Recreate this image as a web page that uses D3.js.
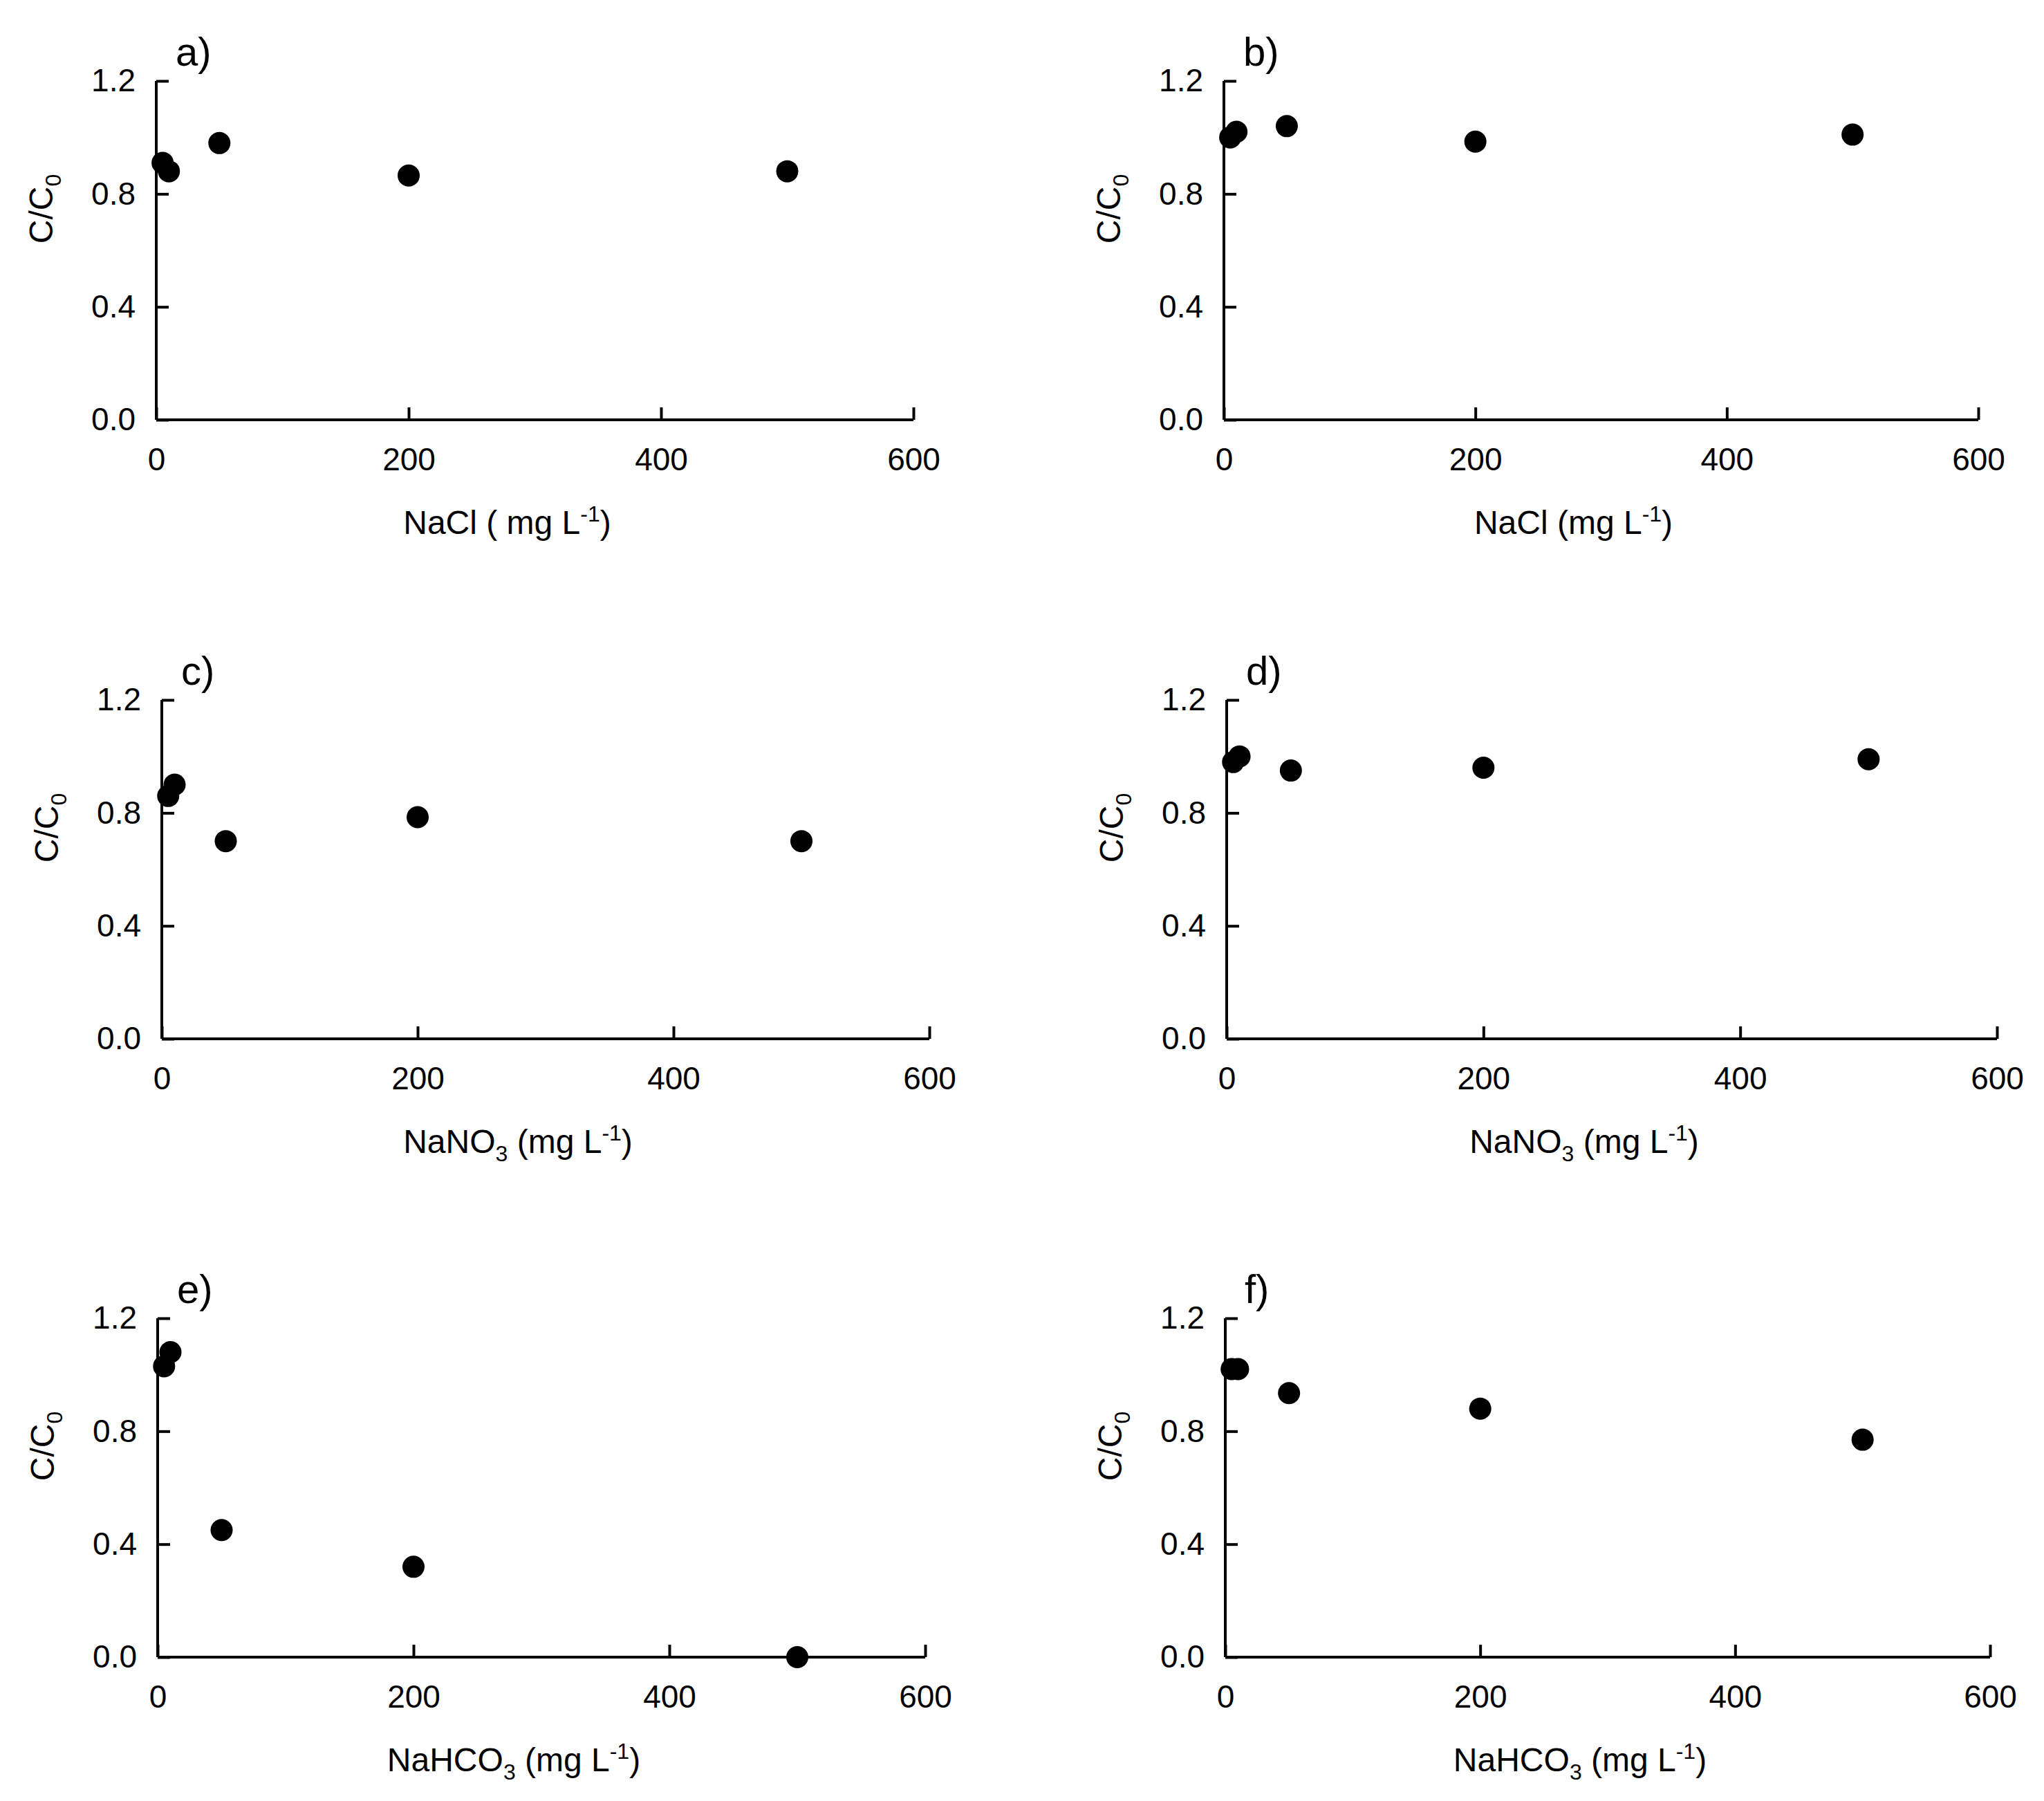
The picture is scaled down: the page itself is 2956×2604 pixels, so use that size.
<!DOCTYPE html>
<html><head><meta charset="utf-8">
<script src="https://cdn.jsdelivr.net/npm/d3@7"></script>
<style>body{margin:0;background:#fff}text{font-family:"Liberation Sans",Arial,sans-serif;fill:#000}</style>
</head><body>
<script>
// concentrations (mg/L) shared by all panels
const conc = [5, 10, 50, 200, 500];
const yTicks = [0, 0.4, 0.8, 1.2];
const xTicks = [0, 200, 400, 600];
const ratioA = [0.91, 0.88, 0.98, 0.865, 0.88];
const ratioB = [1.0, 1.02, 1.04, 0.985, 1.01];
const ratioC = [0.86, 0.90, 0.70, 0.785, 0.70];
const ratioD = [0.98, 1.0, 0.95, 0.96, 0.99];
const ratioE = [1.03, 1.08, 0.45, 0.32, 0.0];
const ratioF = [1.02, 1.02, 0.935, 0.88, 0.77];
const labels = ["a)", "b)", "c)", "d)", "e)", "f)"];
const salts = [["NaCl ( mg L", ""], ["NaCl (mg L", ""], ["NaNO", "3"], ["NaNO", "3"], ["NaHCO", "3"], ["NaHCO", "3"]];

// panel frames in pixels: x0,x1,y0(bottom),y1(top)
const frames = [
  [226, 1321, 607, 117], [1770, 2861, 607, 117],
  [234, 1344, 1502, 1012], [1774, 2888, 1502, 1012],
  [228, 1338, 2396, 1906], [1772, 2878, 2396, 1906]
];
const series = [ratioA, ratioB, ratioC, ratioD, ratioE, ratioF];

const svg = d3.select("body").append("svg").attr("width", 2956).attr("height", 2604);

frames.forEach((f, i) => {
  const x = d3.scaleLinear().domain([0, 600]).range([f[0], f[1]]);
  const y = d3.scaleLinear().domain([0, 1.2]).range([f[2], f[3]]);
  const g = svg.append("g");

  g.append("g").attr("transform", `translate(0,${f[2]})`)
    .call(d3.axisBottom(x).tickValues(xTicks).tickSize(-18).tickPadding(40).tickFormat(d3.format("d")))
    .call(a => a.select(".domain").attr("d", `M${f[0]},0H${f[1]}`));
  g.append("g").attr("transform", `translate(${f[0]},0)`)
    .call(d3.axisLeft(y).tickValues(yTicks).tickSize(-18).tickPadding(30).tickFormat(d3.format(".1f")))
    .call(a => a.select(".domain").attr("d", `M0,${f[2]}V${f[3]}`));
  g.selectAll(".domain, .tick line").attr("stroke", "#000").attr("stroke-width", 4);
  g.selectAll(".tick text").attr("font-size", 46).attr("font-family", "Liberation Sans, Arial");

  g.selectAll("circle").data(conc).join("circle")
    .attr("cx", d => x(d)).attr("cy", (d, j) => y(series[i][j])).attr("r", 16).attr("fill", "#000");

  g.append("text").attr("x", f[0] + 28).attr("y", f[3] - 22).attr("font-size", 58).text(labels[i]);

  const yl = g.append("text").attr("font-size", 48).attr("text-anchor", "middle")
    .attr("transform", `translate(${f[0] - 150},${(f[2] + f[3]) / 2 - 60}) rotate(-90)`);
  yl.append("tspan").text("C/C");
  yl.append("tspan").attr("font-size", 32).attr("dy", 12).text("0");

  const xl = g.append("text").attr("font-size", 48).attr("text-anchor", "middle")
    .attr("x", (f[0] + f[1]) / 2 - 40).attr("y", f[2] + 165);
  xl.append("tspan").text(salts[i][0]);
  if (salts[i][1]) {
    xl.append("tspan").attr("font-size", 32).attr("dy", 12).text(salts[i][1]);
    xl.append("tspan").attr("dy", -12).text(" (mg L");
  }
  xl.append("tspan").attr("font-size", 32).attr("dy", -18).text("-1");
  xl.append("tspan").attr("dy", 18).text(")");
});
</script>
</body></html>
